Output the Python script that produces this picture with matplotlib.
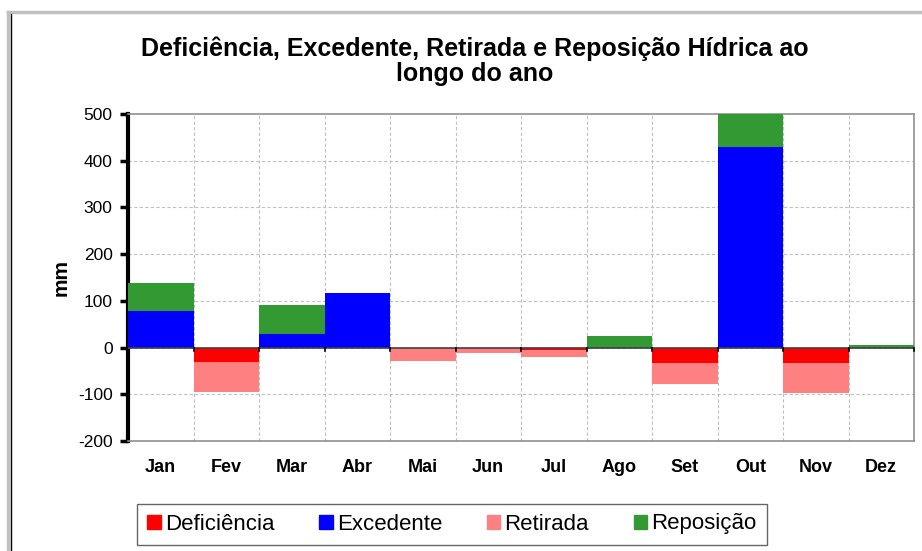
import numpy as np
import matplotlib
matplotlib.use("Agg")
import matplotlib.pyplot as plt
from matplotlib.lines import Line2D
from matplotlib.patches import Patch

plt.rcParams["font.family"] = ["Liberation Sans", "DejaVu Sans"]
plt.rcParams["axes.unicode_minus"] = False

# data (mm)
meses = ["Jan", "Fev", "Mar", "Abr", "Mai", "Jun", "Jul", "Ago", "Set", "Out", "Nov", "Dez"]
deficiencia = [0, -31, 0, 0, 0, 0, -5, 0, -34, 0, -33, 0]
excedente = [78, 0, 28, 117, 0, 0, 0, 0, 0, 430, 0, 0]
retirada = [0, -65, 0, 0, -29, -11, -16, 0, -45, 0, -64, 0]
reposicao = [60, 0, 64, 0, 0, 0, 0, 25, 0, 70, 0, 6]

cor_def = "#ff0000"
cor_exc = "#0000ff"
cor_ret = "#ff8080"
cor_rep = "#339933"

fig = plt.figure(figsize=(9.22, 5.51), dpi=100)
ax = fig.add_axes([128 / 922, 1 - 441 / 551, 786 / 922, 327 / 551])

x = np.arange(len(meses))
deficiencia = np.array(deficiencia)
excedente = np.array(excedente)

ax.bar(x, excedente, width=1.0, color=cor_exc, zorder=3)
ax.bar(x, reposicao, width=1.0, bottom=excedente, color=cor_rep, zorder=3)
ax.bar(x, deficiencia, width=1.0, color=cor_def, zorder=3)
ax.bar(x, retirada, width=1.0, bottom=deficiencia, color=cor_ret, zorder=3)

ax.set_xlim(-0.5, len(meses) - 0.5)
ax.set_ylim(-200, 500)
ax.set_yticks(np.arange(-200, 501, 100))
ax.set_xticks(x)
ax.set_xticklabels(meses, fontsize=13, fontweight="bold")
ax.tick_params(axis="x", length=0, pad=13)
ax.tick_params(axis="y", length=6, width=2.5, direction="out", labelsize=12.5, pad=5)

# grid
for b in np.arange(0.5, len(meses) - 0.5, 1.0):
    ax.axvline(b, color="#c0c0c0", lw=0.8, ls=(0, (3, 2)), zorder=1)
for yv in range(-100, 500, 100):
    ax.axhline(yv, color="#c0c0c0", lw=0.8, ls=(0, (3, 2)), zorder=1)

# zero line with category ticks
ax.axhline(0, color="#404040", lw=1.2, zorder=4)
for b in np.arange(0.5, len(meses) + 0.5, 1.0):
    ax.plot([b, b], [0, -8], color="black", lw=1.2, zorder=4, clip_on=False)

for s in ["top", "right", "bottom"]:
    ax.spines[s].set_color("#909090")
    ax.spines[s].set_linewidth(1.2)
ax.spines["left"].set_color("black")
ax.spines["left"].set_linewidth(3)

ax.set_ylabel("mm", fontsize=15, fontweight="bold", labelpad=5)

fig.text(475 / 922, 1 - 61 / 551,
         "Deficiência, Excedente, Retirada e Reposição Hídrica ao\nlongo do ano",
         ha="center", va="center", fontsize=18, fontweight="bold", linespacing=1.05)

handles = [Patch(color=cor_def, label="Deficiência"),
           Patch(color=cor_exc, label="Excedente"),
           Patch(color=cor_ret, label="Retirada"),
           Patch(color=cor_rep, label="Reposição")]
leg = fig.legend(handles=handles, loc="center", bbox_to_anchor=(452 / 922, 1 - 524 / 551),
                 ncol=4, fontsize=16, frameon=True, fancybox=False, edgecolor="#404040",
                 handlelength=0.6, handleheight=0.6, handletextpad=0.2, columnspacing=2.0,
                 borderpad=0.45, borderaxespad=0)
leg.get_frame().set_linewidth(1.0)

# chart area border
fig.add_artist(Line2D([8 / 922, 8 / 922], [0, 1 - 12 / 551], color="#c0c0c0", lw=2.5,
                      transform=fig.transFigure))
fig.add_artist(Line2D([8 / 922, 1], [1 - 12 / 551, 1 - 12 / 551], color="#c0c0c0", lw=2.5,
                      transform=fig.transFigure))
fig.add_artist(Line2D([11 / 922, 11 / 922], [0, 1 - 14 / 551], color="black", lw=1.0,
                      transform=fig.transFigure))

fig.savefig("out.png", dpi=100)
